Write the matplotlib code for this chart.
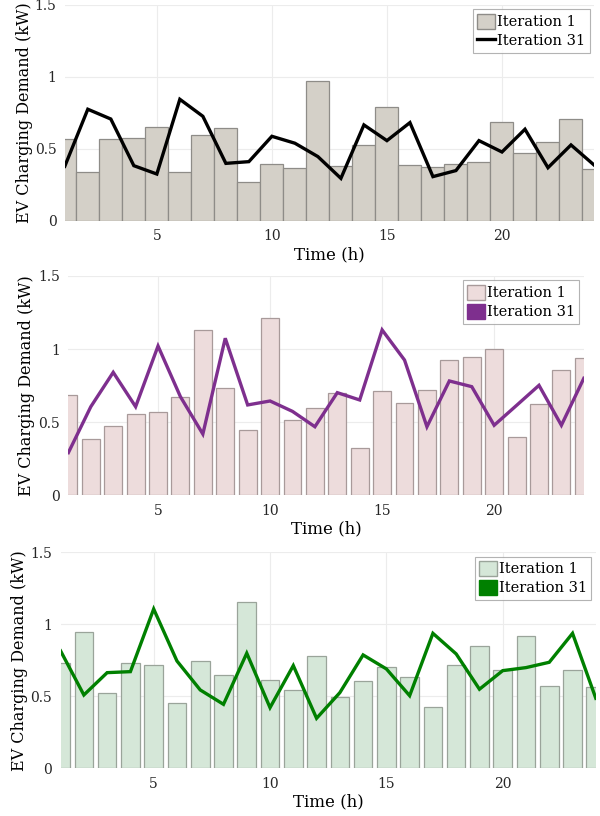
import matplotlib
matplotlib.use('Agg')
import matplotlib.pyplot as plt
from matplotlib.patches import Patch
from matplotlib.lines import Line2D

hours = list(range(1, 25))

# panel 1
iter1_a = [0.567, 0.338, 0.567, 0.574, 0.650, 0.338, 0.595, 0.644, 0.269, 0.396, 0.366, 0.970,
           0.380, 0.526, 0.790, 0.387, 0.373, 0.396, 0.408, 0.685, 0.470, 0.547, 0.708, 0.359]
iter31_a = [0.380, 0.776, 0.708, 0.384, 0.326, 0.845, 0.727, 0.400, 0.412, 0.588, 0.540, 0.447,
            0.296, 0.667, 0.558, 0.683, 0.308, 0.350, 0.558, 0.479, 0.637, 0.370, 0.528, 0.389]

# panel 2
iter1_b = [0.684, 0.383, 0.474, 0.554, 0.572, 0.670, 1.128, 0.732, 0.445, 1.215, 0.517, 0.599,
           0.698, 0.321, 0.716, 0.629, 0.718, 0.923, 0.944, 1.003, 0.399, 0.627, 0.855, 0.937]
iter31_b = [0.292, 0.606, 0.841, 0.606, 1.021, 0.674, 0.419, 1.074, 0.618, 0.645, 0.574, 0.469,
            0.702, 0.652, 1.131, 0.925, 0.469, 0.782, 0.743, 0.479, 0.615, 0.752, 0.479, 0.800]

# panel 3
iter1_c = [0.729, 0.944, 0.521, 0.729, 0.715, 0.451, 0.743, 0.646, 1.157, 0.611, 0.542, 0.778,
           0.495, 0.604, 0.701, 0.632, 0.428, 0.715, 0.847, 0.685, 0.917, 0.569, 0.681, 0.567]
iter31_c = [0.815, 0.509, 0.664, 0.671, 1.106, 0.745, 0.544, 0.444, 0.799, 0.421, 0.713, 0.347,
            0.525, 0.787, 0.690, 0.504, 0.937, 0.794, 0.549, 0.678, 0.699, 0.736, 0.937, 0.486]

legend_labels = ['Iteration 1', 'Iteration 31']
plt.rcParams['font.family'] = ['DejaVu Serif']

fig = plt.figure(figsize=(6, 8.16), dpi=100)

# 面板设置: 位置, 柱宽, 颜色, 图例样式, ylabel 位置
panels = [
    ([0.108, 0.7292, 0.882, 0.2647], iter1_a, iter31_a, 1.0, '#d4d0c8', '#8e8c88', 'black', 'line', -0.060),
    ([0.114, 0.393, 0.859, 0.2688], iter1_b, iter31_b, 0.8, '#eddcdc', '#a89a9a', '#7e2f8e', 'patch', -0.065),
    ([0.101, 0.0585, 0.892, 0.2647], iter1_c, iter31_c, 0.8, '#d5e7d8', '#9aa49a', '#008000', 'patch', -0.061),
]

for pos, bars, line, width, fill, edge, lcolor, lstyle, ylx in panels:
    ax = fig.add_axes(pos)
    ax.bar(hours, bars, width=width, color=fill, edgecolor=edge, linewidth=0.9, zorder=2)
    ax.plot(hours, line, color=lcolor, linewidth=2.4, zorder=3, solid_joinstyle='miter')
    ax.set_xlim(1, 24)
    ax.set_ylim(0, 1.5)
    ax.set_xticks([5, 10, 15, 20])
    ax.set_yticks([0, 0.5, 1, 1.5])
    ax.set_yticklabels(['0', '0.5', '1', '1.5'])
    ax.grid(True, color='#ececec', linewidth=0.8, zorder=0)
    ax.set_axisbelow(True)
    for s in ax.spines.values():
        s.set_visible(False)
    ax.tick_params(length=0, labelsize=10, colors='#262626', pad=6)
    ax.set_xlabel('Time (h)', fontsize=12, labelpad=2)
    ax.set_ylabel('EV Charging Demand (kW)', fontsize=11.5)
    ax.yaxis.set_label_coords(ylx, 0.5)

    if lstyle == 'line':
        h2 = Line2D([0], [0], color=lcolor, linewidth=2.4)
    else:
        h2 = Patch(facecolor=lcolor, edgecolor=lcolor)
    h1 = Patch(facecolor=fill, edgecolor=edge)
    leg = ax.legend([h1, h2], legend_labels, loc='upper right', fontsize=10.5,
                    frameon=True, fancybox=False, borderpad=0.3, labelspacing=0.25,
                    handlelength=1.2, handleheight=1.2, handletextpad=0.15,
                    borderaxespad=0.3)
    leg.get_frame().set_edgecolor('#a0a0a0')
    leg.get_frame().set_linewidth(0.8)

fig.savefig('out.png', dpi=100)
